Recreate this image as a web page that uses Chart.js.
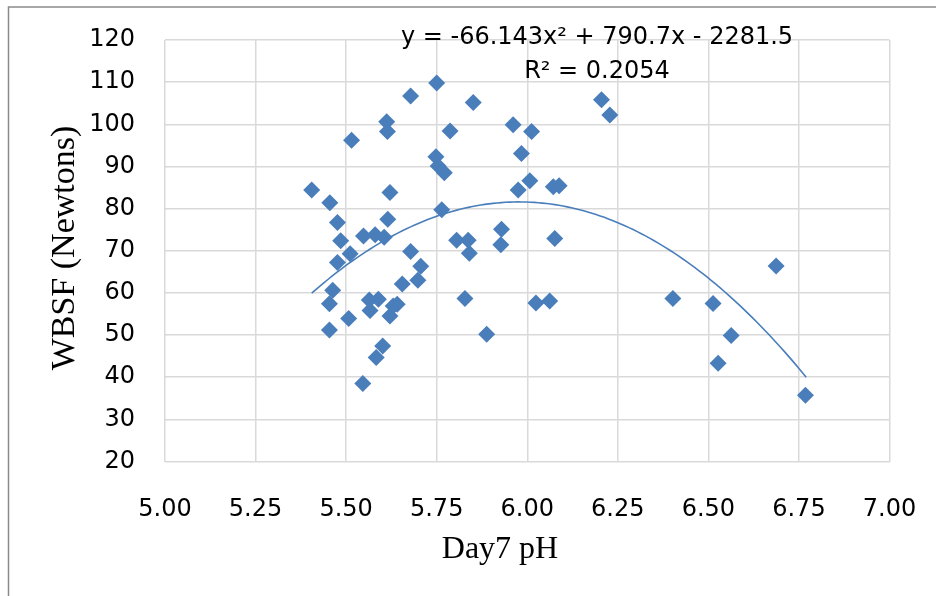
<!DOCTYPE html>
<html>
<head>
<meta charset="utf-8">
<title>WBSF vs Day7 pH</title>
<script src="https://cdn.jsdelivr.net/npm/chart.js@4/dist/chart.umd.min.js"></script>
<style>
  html, body { margin: 0; padding: 0; background: #fff; }
  canvas { display: block; }
</style>
</head>
<body>
<canvas id="ph-chart" width="936" height="596"></canvas>
<script>
"use strict"

// Day 7 pH of each sample and its WBSF reading (Newtons)
const phValues = [
    5.405, 5.455, 5.476, 5.485, 5.476, 5.511, 5.463, 5.454, 5.454, 5.507,
    5.515, 5.548, 5.580, 5.605, 5.564, 5.589, 5.566, 5.621, 5.630, 5.641,
    5.601, 5.583, 5.546, 5.612, 5.614, 5.621, 5.615, 5.678, 5.678, 5.706,
    5.698, 5.655, 5.750, 5.748, 5.754, 5.771, 5.764, 5.787, 5.851, 5.805,
    5.837, 5.840, 5.828, 5.888, 5.929, 5.927, 5.961, 6.012, 5.984, 6.007,
    5.975, 6.072, 6.088, 6.076, 6.024, 6.062, 6.205, 6.228, 6.402, 6.513,
    6.563, 6.527, 6.687, 6.768
];
const wbsfValues = [
    84.4, 81.4, 76.7, 72.4, 67.2, 69.3, 60.6, 57.4, 51.2, 53.9,
    96.2, 73.5, 73.8, 73.2, 58.3, 58.5, 55.8, 54.5, 56.9, 57.3,
    47.4, 44.7, 38.5, 100.6, 98.3, 83.8, 77.5, 106.7, 69.8, 66.3,
    63.0, 62.1, 109.8, 92.3, 90.1, 88.5, 79.7, 98.4, 105.2, 72.5,
    72.5, 69.4, 58.7, 50.2, 75.1, 71.4, 99.9, 98.3, 93.1, 86.6,
    84.4, 85.2, 85.4, 72.9, 57.6, 58.1, 105.8, 102.2, 58.7, 57.5,
    49.9, 43.3, 66.4, 35.7
];

// axis ticks
const xTicks = [5.00, 5.25, 5.50, 5.75, 6.00, 6.25, 6.50, 6.75, 7.00];
const yTicks = [20, 30, 40, 50, 60, 70, 80, 90, 100, 110, 120];

// quadratic trendline y = a*x^2 + b*x + c, drawn over the pH range of the samples
const trendCoef = [-66.143, 790.7, -2281.5];
const trendRange = [5.405, 6.77];
const trendText = "y = -66.143x\u00b2 + 790.7x - 2281.5";
const r2Text = "R\u00b2 = 0.2054";

const xTitle = "Day7 pH";
const yTitle = "WBSF (Newtons)";

const blue = "#4a7ebb";
const gridColor = "#d9d9d9";
const tickFont = { family: "'DejaVu Sans'", size: 24 };

const points = phValues.map((ph, i) => ({ x: ph, y: wbsfValues[i] }));

// sample the fitted curve for the line dataset
const trendPoints = [];
const steps = 120;
for (let i = 0; i <= steps; i++) {
    const x = trendRange[0] + (trendRange[1] - trendRange[0]) * i / steps;
    const y = trendCoef[0] * x * x + trendCoef[1] * x + trendCoef[2];
    trendPoints.push({ x: x, y: y });
}

// white background, chart frame, equation and axis titles
const extras = {
    id: "extras",
    beforeDraw(chart) {
        const ctx = chart.ctx;
        ctx.save();
        ctx.fillStyle = "#fff";
        ctx.fillRect(0, 0, chart.width, chart.height);
        ctx.strokeStyle = "#8a8a8a";
        ctx.lineWidth = 1.5;
        ctx.beginPath();
        ctx.moveTo(8.5, chart.height);
        ctx.lineTo(8.5, 7);
        ctx.lineTo(chart.width, 7);
        ctx.stroke();
        ctx.restore();
    },
    afterDraw(chart) {
        const ctx = chart.ctx;
        ctx.save();
        ctx.fillStyle = "#000";
        ctx.textAlign = "center";
        ctx.textBaseline = "alphabetic";
        ctx.font = "24px 'DejaVu Sans'";
        ctx.fillText(trendText, 597, 44);
        ctx.fillText(r2Text, 597, 78);

        ctx.font = "32px 'Liberation Serif'";
        ctx.fillText(xTitle, 500, 558);

        ctx.font = "34px 'Liberation Serif'";
        ctx.translate(74, 248);
        ctx.rotate(-Math.PI / 2);
        ctx.fillText(yTitle, 0, 0);
        ctx.restore();
    }
};

const ctx = document.getElementById("ph-chart");

new Chart(ctx, {
    type: "scatter",
    data: {
        datasets: [
            {
                label: "WBSF",
                data: points,
                pointStyle: "rectRot",
                pointRadius: 8.5,
                pointHoverRadius: 8.5,
                backgroundColor: blue,
                borderColor: blue,
                borderWidth: 0,
                order: 1
            },
            {
                label: "Poly. (WBSF)",
                type: "line",
                data: trendPoints,
                borderColor: blue,
                borderWidth: 1.6,
                pointRadius: 0,
                tension: 0,
                fill: false,
                order: 2
            }
        ]
    },
    options: {
        responsive: false,
        animation: false,
        events: [],
        layout: { padding: { top: 40, right: 46.5, left: 0, bottom: 0 } },
        plugins: {
            legend: { display: false },
            tooltip: { enabled: false }
        },
        scales: {
            x: {
                type: "linear",
                min: xTicks[0],
                max: xTicks[xTicks.length - 1],
                afterBuildTicks: (scale) => { scale.ticks = xTicks.map(v => ({ value: v })); },
                afterFit: (scale) => {
                    scale.height = 134.5;
                    scale.paddingLeft = 0;
                    scale.paddingRight = 0;
                },
                grid: { color: gridColor, lineWidth: 1.5, drawTicks: false },
                border: { display: false },
                ticks: {
                    color: "#000",
                    font: tickFont,
                    padding: 34,
                    maxRotation: 0,
                    autoSkip: false,
                    callback: (v) => v.toFixed(2)
                }
            },
            y: {
                type: "linear",
                min: yTicks[0],
                max: yTicks[yTicks.length - 1],
                afterBuildTicks: (scale) => { scale.ticks = yTicks.map(v => ({ value: v })); },
                afterFit: (scale) => {
                    scale.width = 165;
                    scale.paddingTop = 0;
                    scale.paddingBottom = 0;
                },
                grid: { color: gridColor, lineWidth: 1.5, drawTicks: false },
                border: { display: false },
                ticks: {
                    color: "#000",
                    font: tickFont,
                    padding: 30,
                    autoSkip: false,
                    callback: (v) => String(v)
                }
            }
        }
    },
    plugins: [extras]
});
</script>
</body>
</html>
